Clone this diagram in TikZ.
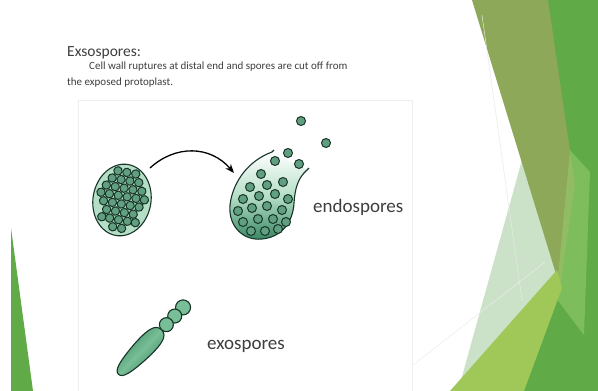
\documentclass[tikz,border=0pt]{standalone}
\usepackage{fontspec}
\setmainfont{Carlito}
\usetikzlibrary{arrows.meta}
\definecolor{inkdark}{RGB}{24,52,40}
\definecolor{sporefill}{RGB}{96,160,128}
\definecolor{sporelight}{RGB}{120,190,150}
\definecolor{cellpale}{RGB}{180,222,198}
\definecolor{celldeep}{RGB}{52,132,96}
\definecolor{textgrey}{RGB}{62,62,62}
\definecolor{brightgreen}{RGB}{96,170,72}
\definecolor{olivegreen}{RGB}{140,168,88}
\definecolor{lightband}{RGB}{150,205,110}
\definecolor{yellowgreen}{RGB}{160,200,88}
\definecolor{palemint}{RGB}{204,226,200}
\definecolor{framegrey}{RGB}{238,238,238}
\begin{document}
\begin{tikzpicture}[x=1pt,y=-1pt,
  spore/.style={draw=inkdark, line width=1pt, fill=sporefill},
  cellwall/.style={draw=inkdark, line width=1.1pt},
  title text/.style={font=\fontsize{15.5}{18}\selectfont, text=textgrey, anchor=base west, inner sep=0pt},
  body text/.style={font=\fontsize{11}{13}\selectfont, text=textgrey, anchor=base west, inner sep=0pt},
  label text/.style={font=\fontsize{19}{22}\selectfont, text=textgrey, anchor=base west, inner sep=0pt}]
\useasboundingbox (0,0) rectangle (598,391);
\fill[white] (0,0) rectangle (598,391);

% faint frame of the inserted figure
\draw[framegrey, line width=0.6pt] (78,391) -- (78,100) -- (412,100) -- (412,391);

% facet decoration on the right
\fill[palemint] (522,160) -- (565,290) -- (458,391) -- cycle;
\fill[brightgreen] (546,0) -- (598,0) -- (598,391) -- (522,391) -- (560,287) -- cycle;
\fill[olivegreen] (472,0) -- (548,0) -- (575,185) -- (560,287) -- cycle;
\fill[lightband, opacity=0.55] (570,150) -- (590,172) -- (584,335) -- (556,298) -- cycle;
\fill[yellowgreen] (450,391) -- (557,270) -- (562,288) -- (524,391) -- cycle;
\draw[white!82!gray, line width=0.5pt] (482,15) -- (522,300);
\draw[white!85!gray, line width=0.5pt] (413,365) -- (545,262);

% facet wedge on the left
\fill[brightgreen] (11,228) -- (11,391) -- (33,391) -- cycle;

% heading and description
\node[title text] (title) at (67,56) {Exsospores:};
\node[body text] (line1) at (89,69) {Cell wall ruptures at distal end and spores are cut off from};
\node[body text] (line2) at (67,85) {the exposed protoplast.};

% closed sporangium full of spores
\coordinate (cellA) at (122,200);
\begin{scope}[shift={(cellA)}, rotate=-10]
  \draw[cellwall, fill=cellpale] (0,0) ellipse [x radius=29, y radius=36];
  \foreach \x/\y in {-9/-28,0/-28,9/-28,
                     -13.5/-20,-4.5/-20,4.5/-20,13.5/-20,
                     -18/-12,-9/-12,0/-12,9/-12,18/-12,
                     -22/-4,-13.5/-4,-4.5/-4,4.5/-4,13.5/-4,22/-4,
                     -18/4,-9/4,0/4,9/4,18/4,
                     -13.5/12,-4.5/12,4.5/12,13.5/12,
                     -17/20,-9/20,0/20,9/20,17/20,
                     -4.5/28,4.5/28}
    \draw[spore] (\x,\y) circle [radius=4.2];
\end{scope}

% ruptured sporangium releasing spores
\coordinate (cellB) at (262,200);
\shade[top color=white, bottom color=celldeep, middle color=cellpale]
  (272,152) .. controls (250,160) and (233,180) .. (230,205)
  .. controls (228,228) and (245,241) .. (262,239)
  .. controls (282,237) and (293,222) .. (294,203)
  .. controls (295,188) and (298,178) .. (307,170) -- cycle;
\draw[cellwall]
  (274,150) -- (272,152) .. controls (250,160) and (233,180) .. (230,205)
  .. controls (228,228) and (245,241) .. (262,239)
  .. controls (282,237) and (293,222) .. (294,203)
  .. controls (295,188) and (298,178) .. (307,170) -- (309,168);
\foreach \x/\y in {261/174,
                   250/187,267/185,283/182,
                   243/199,259/196,275/194,288/199,
                   238/211,252/208,267/206,282/210,
                   243/222,258/219,273/219,286/222,
                   251/231,265/231,278/229}
  \draw[spore] (\x,\y) circle [radius=4.5];
\foreach \x/\y in {301/121,326/143,288/153,275/161,299/164}
  \draw[spore] (\x,\y) circle [radius=4.5];

% arrow from the closed to the ruptured sporangium
\coordinate (arrowTail) at (150,168);
\coordinate (arrowTip) at (234,173);
\draw[line width=1.3pt, -{Stealth[length=9pt, width=7pt]}]
  (arrowTail) .. controls (175,145) and (210,145) .. (arrowTip);

% hypha cutting off a chain of exospores
\coordinate (hypha) at (140,352);
\begin{scope}[shift={(hypha)}, rotate=46]
  \foreach \d/\r in {62/7.5,50/7,38/7}
    \draw[cellwall, fill=sporelight] (\d,0) circle [radius=\r];
  \shade[top color=celldeep, bottom color=celldeep, middle color=sporelight, shading angle=46]
    (-31,0) .. controls (-31,-6) and (-20,-8) .. (0,-9.5)
    .. controls (20,-10.5) and (31,-9) .. (31,0)
    .. controls (31,9) and (20,10.5) .. (0,9.5)
    .. controls (-20,8) and (-31,6) .. (-31,0) -- cycle;
  \draw[inkdark, line width=1.1pt]
    (-31,0) .. controls (-31,-6) and (-20,-8) .. (0,-9.5)
    .. controls (20,-10.5) and (31,-9) .. (31,0)
    .. controls (31,9) and (20,10.5) .. (0,9.5)
    .. controls (-20,8) and (-31,6) .. (-31,0) -- cycle;
\end{scope}

% labels
\node[label text] (endoLabel) at (313,212) {endospores};
\node[label text] (exoLabel) at (207,349) {exospores};
\end{tikzpicture}
\end{document}
